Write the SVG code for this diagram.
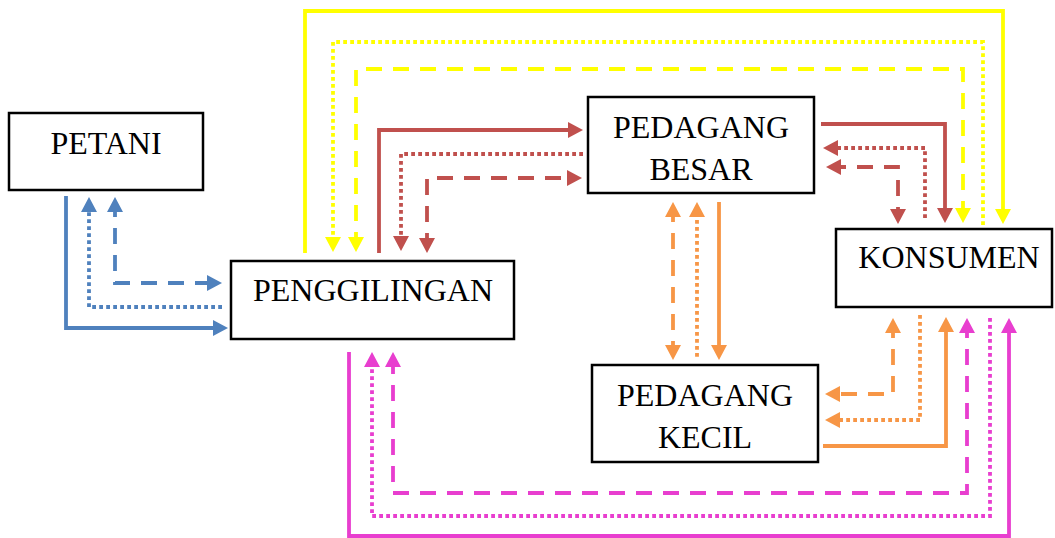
<svg xmlns="http://www.w3.org/2000/svg" width="1055" height="538" viewBox="0 0 1055 538">
<style>
.box{fill:#fff;stroke:#000;stroke-width:2.5}
.t{font-family:"Liberation Serif","Times New Roman",serif;font-size:32px;fill:#000;text-anchor:middle}
.c{fill:none;stroke-width:3.8;stroke-linecap:butt;stroke-linejoin:miter}
.dash{stroke-dasharray:16 11}
.dot{stroke-dasharray:3.8 3.2}
.b{stroke:#4F81BD}.y{stroke:#FFFF00}.r{stroke:#C0504D}.o{stroke:#F79646}.m{stroke:#E83ECF}
</style>
<defs>
<marker id="ab" viewBox="0 0 15 16" markerUnits="userSpaceOnUse" markerWidth="15" markerHeight="16" refX="11" refY="8" orient="auto-start-reverse"><path d="M0,0 L15,8 L0,16 z" fill="#4F81BD"/></marker>
<marker id="ay" viewBox="0 0 15 16" markerUnits="userSpaceOnUse" markerWidth="15" markerHeight="16" refX="11" refY="8" orient="auto-start-reverse"><path d="M0,0 L15,8 L0,16 z" fill="#FFFF00"/></marker>
<marker id="ar" viewBox="0 0 15 16" markerUnits="userSpaceOnUse" markerWidth="15" markerHeight="16" refX="11" refY="8" orient="auto-start-reverse"><path d="M0,0 L15,8 L0,16 z" fill="#C0504D"/></marker>
<marker id="ao" viewBox="0 0 15 16" markerUnits="userSpaceOnUse" markerWidth="15" markerHeight="16" refX="11" refY="8" orient="auto-start-reverse"><path d="M0,0 L15,8 L0,16 z" fill="#F79646"/></marker>
<marker id="am" viewBox="0 0 15 16" markerUnits="userSpaceOnUse" markerWidth="15" markerHeight="16" refX="11" refY="8" orient="auto-start-reverse"><path d="M0,0 L15,8 L0,16 z" fill="#E83ECF"/></marker>
</defs>
<rect width="1055" height="538" fill="#fff"/>
<g id="connectors">
<path class="c b" d="M66,196 V328 H224" marker-end="url(#ab)"/>
<path class="c b dot" d="M222,307 H89 V201" marker-end="url(#ab)"/>
<path class="c b dash" d="M115,201 V283 H218" marker-start="url(#ab)" marker-end="url(#ab)"/>
<path class="c y" d="M305,253 V11 H1003 V220" marker-end="url(#ay)"/>
<path class="c y dot" d="M983,225 V42 H333 V248" marker-end="url(#ay)"/>
<path class="c y dash" d="M356,248 V69 H963 V219" marker-start="url(#ay)" marker-end="url(#ay)"/>
<path class="c r" d="M379,253 V130 H579" marker-end="url(#ar)"/>
<path class="c r" d="M821,124 H945 V219" marker-end="url(#ar)"/>
<path class="c r dot" d="M583,154 H401 V247" marker-end="url(#ar)"/>
<path class="c r dot" d="M925,218 V148 H827" marker-end="url(#ar)"/>
<path class="c r dash" d="M427,249 V178 H578" marker-start="url(#ar)" marker-end="url(#ar)"/>
<path class="c r dash" d="M830,167 H898 V220" marker-start="url(#ar)" marker-end="url(#ar)"/>
<path class="c o dash" d="M673,206 V356" marker-start="url(#ao)" marker-end="url(#ao)"/>
<path class="c o dot" d="M697,206 V360" marker-start="url(#ao)"/>
<path class="c o" d="M719,202 V356" marker-end="url(#ao)"/>
<path class="c o dash" d="M893,322 V394 H829" marker-start="url(#ao)" marker-end="url(#ao)"/>
<path class="c o dot" d="M920,315 V420 H829" marker-end="url(#ao)"/>
<path class="c o" d="M823,446 H946 V321" marker-end="url(#ao)"/>
<path class="c m dash" d="M967,322 V493 H393 V356" marker-start="url(#am)" marker-end="url(#am)"/>
<path class="c m dot" d="M990,318 V516 H372 V356" marker-end="url(#am)"/>
<path class="c m" d="M349,352 V536 H1009 V322" marker-end="url(#am)"/>
</g>
<g id="petani"><rect class="box" x="9" y="113" width="194" height="77"/><text class="t" x="106" y="154">PETANI</text></g>
<g id="penggilingan"><rect class="box" x="231" y="261" width="283" height="78"/><text class="t" x="373" y="301">PENGGILINGAN</text></g>
<g id="pedagang-besar"><rect class="box" x="588" y="97" width="226" height="96"/><text class="t" x="701" y="138">PEDAGANG</text><text class="t" x="701" y="180">BESAR</text></g>
<g id="konsumen"><rect class="box" x="836" y="229" width="216" height="78"/><text class="t" x="949" y="268">KONSUMEN</text></g>
<g id="pedagang-kecil"><rect class="box" x="592" y="365" width="226" height="97"/><text class="t" x="705" y="406">PEDAGANG</text><text class="t" x="705" y="448">KECIL</text></g>
</svg>
